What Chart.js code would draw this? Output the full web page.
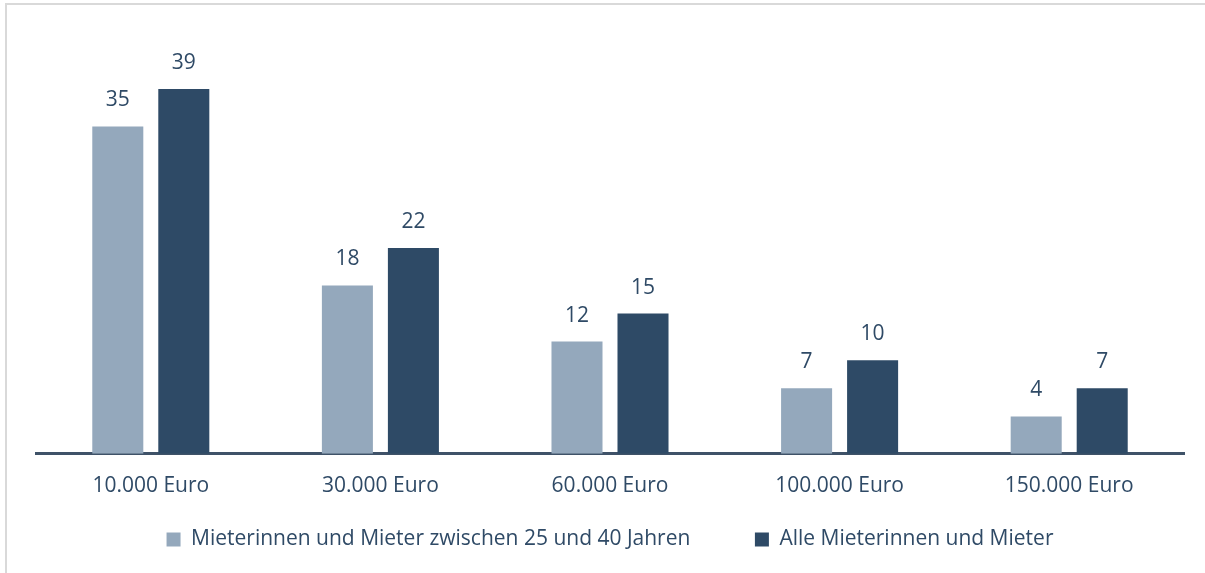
<!DOCTYPE html>
<html>
<head>
<meta charset="utf-8">
<script src="https://cdn.jsdelivr.net/npm/chart.js@4"></script>
<style>
  html, body { margin: 0; padding: 0; background: #fff; overflow: hidden; }
  #frame { position: absolute; left: 5px; top: 3px; width: 1300px; height: 600px; border: 2px solid #d9d9d9; box-sizing: border-box; }
  #wrap { position: absolute; left: 0; top: 0; width: 1205px; height: 573px; }
</style>
</head>
<body>
<div id="frame"></div>
<div id="wrap"><canvas id="chart"></canvas></div>
<script>
const kategorien = ['10.000 Euro', '30.000 Euro', '60.000 Euro', '100.000 Euro', '150.000 Euro'];
const jung = [35, 18, 12, 7, 4];
const alle = [39, 22, 15, 10, 7];
const serienNamen = ['Mieterinnen und Mieter zwischen 25 und 40 Jahren', 'Alle Mieterinnen und Mieter'];

const textFarbe = '#2f4a66';
Chart.defaults.font.family = "'Open Sans', sans-serif";
Chart.defaults.font.size = 21;
Chart.defaults.color = textFarbe;

// Werte über den Balken
const werteLabels = {
    id: 'werteLabels',
    afterDatasetsDraw(chart) {
        const ctx = chart.ctx;
        ctx.save();
        ctx.font = "21px 'Open Sans', sans-serif";
        ctx.fillStyle = textFarbe;
        ctx.textAlign = 'center';
        ctx.textBaseline = 'middle';
        chart.data.datasets.forEach((ds, i) => {
            chart.getDatasetMeta(i).data.forEach((bar, j) => {
                ctx.fillText(ds.data[j], bar.x, bar.y - 26);
            });
        });
        ctx.restore();
    }
};

new Chart(document.getElementById('chart'), {
    type: 'bar',
    data: {
        labels: kategorien,
        datasets: [{
            label: serienNamen[0],
            data: jung,
            backgroundColor: '#94a8bc',
            categoryPercentage: 0.575,
            barPercentage: 0.773
        }, {
            label: serienNamen[1],
            data: alle,
            backgroundColor: '#2e4a66',
            categoryPercentage: 0.575,
            barPercentage: 0.773
        }]
    },
    options: {
        responsive: true, maintainAspectRatio: false, animation: false,
        layout: { padding: { left: 36, right: 21, top: 33, bottom: 13 } },
        plugins: {
            legend: {
                position: 'bottom',
                labels: {
                    boxWidth: 14, boxHeight: 14, padding: 10, color: textFarbe,
                    // mehr Abstand zwischen den Einträgen, ohne die Höhe zu ändern
                    generateLabels(chart) {
                        const items = Chart.defaults.plugins.legend.labels.generateLabels(chart);
                        items[0].text += ' '.repeat(10);
                        return items;
                    }
                }
            },
            tooltip: { enabled: false }
        },
        scales: {
            x: {
                grid: { display: false, drawTicks: false },
                border: { display: true, color: '#3f5268', width: 3 },
                ticks: { padding: 20, color: textFarbe }
            },
            y: { display: false, min: 0, max: 45 }
        }
    },
    plugins: [werteLabels]
});
</script>
</body>
</html>
